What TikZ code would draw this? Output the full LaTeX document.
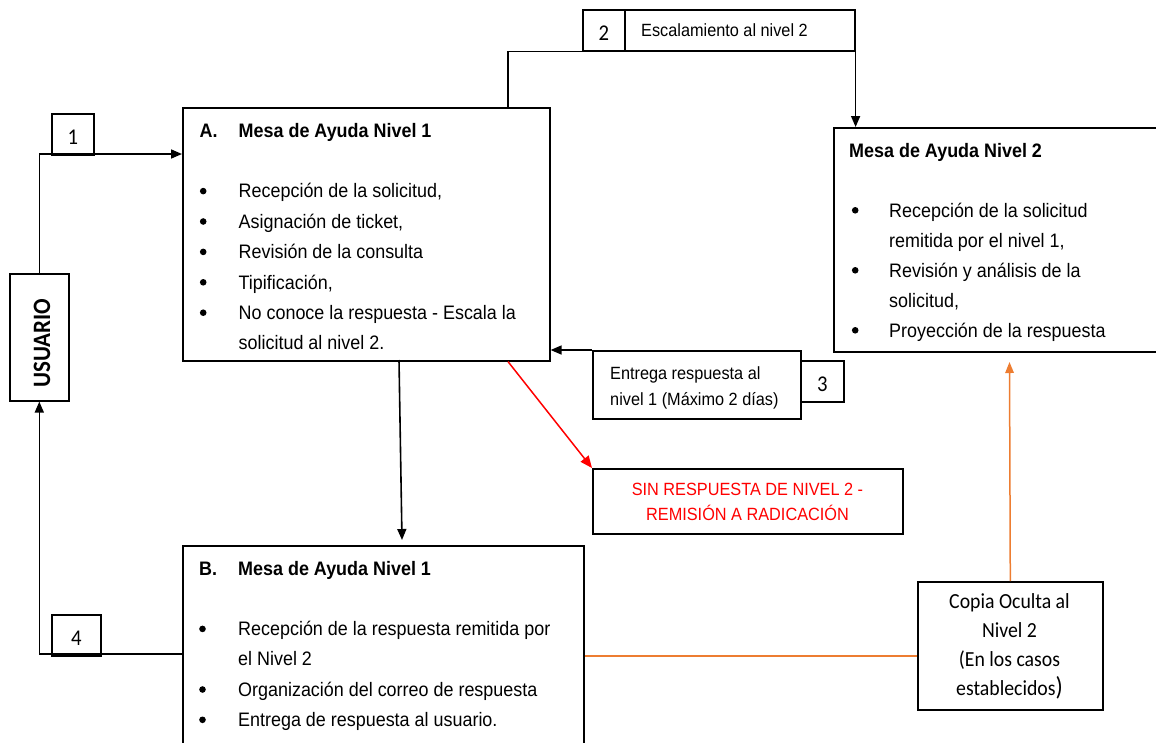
\documentclass[tikz,border=0pt]{standalone}
\usepackage{fontspec}
\setmainfont{Liberation Sans}[FakeStretch=0.92]
\newfontfamily\calib{Carlito}[FakeStretch=0.92]
\usetikzlibrary{arrows.meta}
\definecolor{oforange}{RGB}{237,125,49}
\newcommand{\mainsz}{\fontsize{19.5}{30.4}\selectfont}
\newcommand{\smallsz}{\fontsize{17.7}{25.5}\selectfont}
\newcommand{\dotb}{\tikz[baseline=0pt]\fill (0pt,6.7pt) circle[radius=3.3pt];}
\newcommand{\bl}[2]{\makebox[#1][l]{\hspace*{#2}\dotb}}
\begin{document}
\begin{tikzpicture}[x=1pt,y=-1pt,
  box/.style={draw, line width=1.6pt, inner sep=0pt, anchor=north west},
  numbox/.style={box, font=\calib\fontsize{22.5}{22.5}\selectfont, text height=21pt, text depth=0pt},
  txt/.style={inner sep=0pt, anchor=base west},
  arr/.style={line width=1.6pt, -{Triangle[length=11pt,width=9pt]}},
  redarr/.style={red, line width=1.5pt, -{Triangle[length=12pt,width=10pt]}},
  orline/.style={oforange, line width=1.5pt},
  orarr/.style={orline, -{Triangle[length=11pt,width=8.5pt]}}]
\useasboundingbox (0,0) rectangle (1156,742);
\clip (0,0) rectangle (1156,742);

% boxes
\node[box, minimum width=367pt, minimum height=253pt] (A) at (182,107) {};
\node[box, minimum width=345pt, minimum height=224pt] (N) at (833,127) {};
\node[box, minimum width=401pt, minimum height=240pt] (B) at (182,545) {};
\node[box, minimum width=59pt, minimum height=127pt] (U) at (9,273) {};
\node[numbox, minimum width=42pt, minimum height=41pt] (n1) at (51,113) {1};
\node[numbox, minimum width=42pt, minimum height=41pt] (n2) at (582,9) {2};
\node[box, minimum width=230pt, minimum height=41pt] (esc) at (624,9) {};
\node[box, minimum width=208pt, minimum height=68pt] (ent) at (592,350) {};
\node[numbox, minimum width=43pt, minimum height=41pt] (n3) at (800,360) {3};
\node[box, minimum width=310pt, minimum height=65pt] (sin) at (592,468) {};
\node[box, minimum width=185pt, minimum height=128pt] (cop) at (917,581) {};
\node[numbox, minimum width=49pt, minimum height=41pt] (n4) at (51,614) {4};

% texts
\node[rotate=90, inner sep=0pt, font=\calib\bfseries\fontsize{25}{25}\selectfont] (Ut) at (42,343) {USUARIO};

\node[txt] (At) at (199.5,137) {\parbox[t]{345pt}{\mainsz
\makebox[39pt][l]{\bfseries A.}\textbf{Mesa de Ayuda Nivel 1}\par
\mbox{}\par
\bl{39pt}{0.2pt}Recepción de la solicitud,\par
\bl{39pt}{0.2pt}Asignación de ticket,\par
\bl{39pt}{0.2pt}Revisión de la consulta\par
\bl{39pt}{0.2pt}Tipificación,\par
\bl{39pt}{0.2pt}No conoce la respuesta - Escala la\par
\hspace*{39pt}solicitud al nivel 2.}};

\node[txt] (Nt) at (849,157) {\parbox[t]{300pt}{\fontsize{19.5}{30}\selectfont
\textbf{Mesa de Ayuda Nivel 2}\par
\mbox{}\par
\bl{40pt}{2.7pt}Recepción de la solicitud\par
\hspace*{40pt}remitida por el nivel 1,\par
\bl{40pt}{2.7pt}Revisión y análisis de la\par
\hspace*{40pt}solicitud,\par
\bl{40pt}{2.7pt}Proyección de la respuesta}};

\node[txt] (Bt) at (199,575) {\parbox[t]{370pt}{\fontsize{19.5}{30.3}\selectfont
\makebox[39pt][l]{\bfseries B.}\textbf{Mesa de Ayuda Nivel 1}\par
\mbox{}\par
\bl{39pt}{0pt}Recepción de la respuesta remitida por\par
\hspace*{39pt}el Nivel 2\par
\bl{39pt}{0pt}Organización del correo de respuesta\par
\bl{39pt}{0pt}Entrega de respuesta al usuario.}};

\node[txt, font=\smallsz] (esct) at (641,36) {Escalamiento al nivel 2};
\node[txt] (entt) at (610,379.5) {\parbox[t]{185pt}{\smallsz Entrega respuesta al\\nivel 1 (Máximo 2 días)}};
\node[inner sep=0pt, anchor=base, text=red] (sint) at (747.5,495) {\parbox[t]{300pt}{\centering\smallsz SIN RESPUESTA DE NIVEL 2 -\\REMISIÓN A RADICACIÓN}};
\node[inner sep=0pt, anchor=base] (copt) at (1009.5,608) {\parbox[t]{185pt}{\centering\calib\fontsize{21.5}{29}\selectfont Copia Oculta al\\Nivel 2\\(En los casos\\establecidos{\fontsize{26}{29}\selectfont)}}};

% coordinates
\coordinate (a1) at (182,154);
\coordinate (a2) at (508,107);
\coordinate (a4) at (399,360);
\coordinate (b4) at (402,540);
\coordinate (b5) at (182,654);
\coordinate (c5) at (917,656);
\coordinate (n5) at (1009.5,362);

% connectors
\draw[arr] (U.north) |- (a1);
\draw[arr] (a2) |- (esc.south east) -- (esc.south east |- N.north);
\draw[arr] (ent.north west) -- (A.east |- ent.north west);
\draw[redarr] (a2 |- A.south) -- (sin.north west);
\draw[arr] (a4) -- (b4);
\draw[arr] (b5) -| (U.south);
\draw[orline] (c5) -- (B.east |- c5);
\draw[orarr] (cop.north) -- (n5);
\end{tikzpicture}
\end{document}
